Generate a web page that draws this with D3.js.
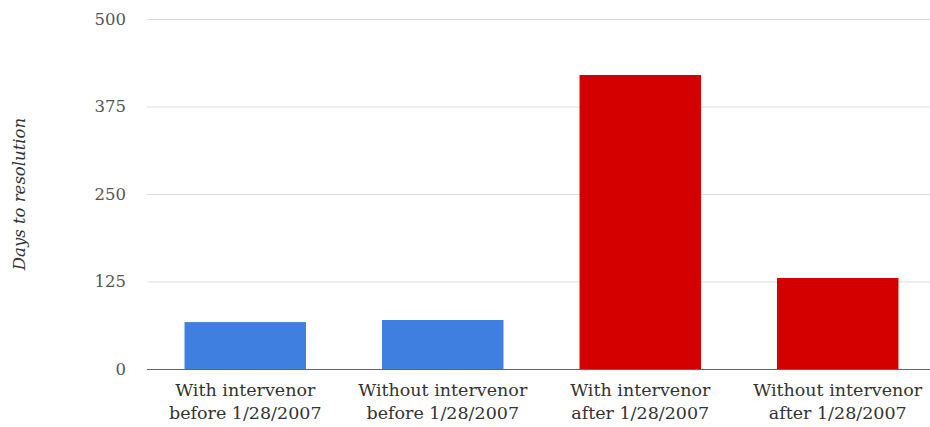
<!DOCTYPE html>
<html><head><meta charset="utf-8">
<script src="https://cdn.jsdelivr.net/npm/d3@7"></script>
<style>body{margin:0;background:#fff}</style>
</head><body><svg id="c" width="930" height="427"></svg>
<script>
const categories = [["With intervenor","before 1/28/2007"],["Without intervenor","before 1/28/2007"],["With intervenor","after 1/28/2007"],["Without intervenor","after 1/28/2007"]];
const values = [67, 70, 420, 130];
const barColors = ["#3f7fdf","#3f7fdf","#d40000","#d40000"];
const yTicks = [0,125,250,375,500];
const yTitle = "Days to resolution";

const svg = d3.select("#c");
const m = {l:147, t:19, b:58};
const W = 930, H = 427;
const x = d3.scaleBand().domain(d3.range(categories.length)).range([m.l, 936]).paddingInner(0.385).paddingOuter(0.19);
const y = d3.scaleLinear().domain([0,500]).range([H-m.b, m.t]);
const font = "'DejaVu Serif', Georgia, serif";

const g = svg.append("g");
g.selectAll(".grid").data(yTicks.filter(d=>d>0)).join("line")
  .attr("x1", m.l).attr("x2", W).attr("y1", d=>y(d)+0.5).attr("y2", d=>y(d)+0.5)
  .attr("stroke","#dcdcdc").attr("stroke-width",1);

const ya = d3.axisLeft(y).tickValues(yTicks).tickSize(0).tickPadding(21);
const yg = svg.append("g").attr("transform",`translate(${m.l},0)`).call(ya);
yg.select(".domain").remove();
yg.selectAll("text").attr("font-family",font).attr("font-size",16.5).attr("fill","#555");

g.selectAll(".bar").data(values).join("rect")
  .attr("x",(d,i)=>x(i)).attr("width",x.bandwidth())
  .attr("y",d=>y(d)).attr("height",d=>y(0)-y(d))
  .attr("fill",(d,i)=>barColors[i]);

svg.append("line").attr("x1",m.l).attr("x2",W).attr("y1",y(0)+0.5).attr("y2",y(0)+0.5)
  .attr("stroke","#666").attr("stroke-width",1.2);

const lab = svg.selectAll(".lab").data(categories).join("text")
  .attr("text-anchor","middle").attr("font-family",font).attr("font-size",17.5).attr("fill","#333");
lab.each(function(d,i){
  const t = d3.select(this);
  d.forEach((s,k)=>t.append("tspan").attr("x",x(i)+x.bandwidth()/2).attr("y",y(0)+27+k*23).text(s));
});

svg.append("text").attr("transform",`translate(25,${(m.t+y(0))/2}) rotate(-90)`)
  .attr("text-anchor","middle").attr("font-family",font).attr("font-style","italic")
  .attr("font-size",16.5).attr("fill","#333").text(yTitle);
</script></body></html>
